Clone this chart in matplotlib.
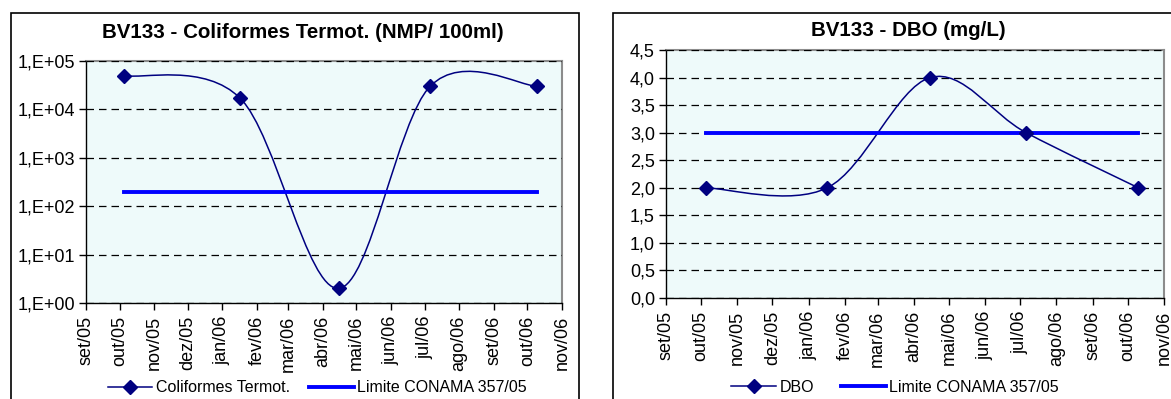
import matplotlib
matplotlib.use("Agg")
import matplotlib.pyplot as plt
import matplotlib.dates as mdates
from matplotlib.path import Path
from matplotlib.patches import PathPatch, Rectangle
from matplotlib.lines import Line2D
import numpy as np
import pandas as pd

plt.rcParams['font.family'] = ['Liberation Sans', 'DejaVu Sans']

# sample dates (same for both parameters)
dates = ['2005-10-05', '2006-01-17', '2006-04-15', '2006-07-06', '2006-10-10']
coliformes = [50000, 17000, 2, 30000, 30000]
dbo = [2.0, 2.0, 4.0, 3.0, 2.0]
limite_colif = 200
limite_dbo = 3.0

month_labels = ['set/05', 'out/05', 'nov/05', 'dez/05', 'jan/06', 'fev/06', 'mar/06',
                'abr/06', 'mai/06', 'jun/06', 'jul/06', 'ago/06', 'set/06', 'out/06', 'nov/06']
colif_ticks = [1, 10, 100, 1000, 10000, 100000]
colif_labels = ['1,E+00', '1,E+01', '1,E+02', '1,E+03', '1,E+04', '1,E+05']
dbo_ticks = [0.0, 0.5, 1.0, 1.5, 2.0, 2.5, 3.0, 3.5, 4.0, 4.5]
dbo_labels = ['0,0', '0,5', '1,0', '1,5', '2,0', '2,5', '3,0', '3,5', '4,0', '4,5']

NAVY = '#000080'
BLUE = '#0000FF'
BG = '#EEFAFA'
W, H = 1171, 399


def smooth_path(x, y):
    # excel-like smoothed line: catmull-rom segments as cubic beziers
    n = len(x)
    verts = [(x[0], y[0])]
    codes = [Path.MOVETO]
    for i in range(n - 1):
        a = i - 1 if i > 0 else i
        d = i + 2 if i + 2 < n else i + 1
        c1 = (x[i] + (x[i + 1] - x[a]) / 6, y[i] + (y[i + 1] - y[a]) / 6)
        c2 = (x[i + 1] - (x[d] - x[i]) / 6, y[i + 1] - (y[d] - y[i]) / 6)
        verts += [c1, c2, (x[i + 1], y[i + 1])]
        codes += [Path.CURVE4] * 3
    return np.array(verts), codes


def style_axes(ax):
    ax.set_facecolor(BG)
    for s in ['top', 'right']:
        ax.spines[s].set_color('#8C8C8C')
        ax.spines[s].set_linewidth(1.5)
    for s in ['left', 'bottom']:
        ax.spines[s].set_color('black')
        ax.spines[s].set_linewidth(1.0)
    months = mdates.date2num(pd.date_range('2005-09-01', '2006-11-01', freq='MS'))
    ax.set_xlim(months[0], months[-1])
    ax.set_xticks(months)
    ax.set_xticklabels(month_labels, rotation=90)
    ax.tick_params(axis='both', direction='out', length=5, width=1, labelsize=13, pad=3)
    ax.tick_params(axis='x', pad=4)
    ax.yaxis.grid(True, color='black', linestyle=(0, (6, 4)), linewidth=0.9)
    ax.set_axisbelow(False)


fig = plt.figure(figsize=(W / 100, H / 100), dpi=100)

# chart area frames
fig.add_artist(Rectangle((11 / W, -0.1), (579 - 11) / W, 1.1 - 13 / H,
                         transform=fig.transFigure, fill=False, ec='black', lw=1.2))
fig.add_artist(Rectangle((613 / W, -0.1), 0.5, 1.1 - 13 / H,
                         transform=fig.transFigure, fill=False, ec='black', lw=1.2))

xd = mdates.date2num(pd.to_datetime(dates))

# ---- left: coliformes
ax1 = fig.add_axes([86 / W, (H - 303) / H, 476 / W, 242 / H])
style_axes(ax1)
ax1.set_yscale('log')
ax1.set_ylim(1, 100000)
ax1.set_yticks(colif_ticks)
ax1.set_yticklabels(colif_labels)
ax1.yaxis.set_minor_locator(matplotlib.ticker.NullLocator())
v, c = smooth_path(xd, np.log10(coliformes))
v[:, 1] = 10 ** v[:, 1]
ax1.add_patch(PathPatch(Path(v, c), fill=False, ec=NAVY, lw=1.1, zorder=3))
ax1.plot(xd, coliformes, 'D', color=NAVY, ms=7, zorder=4)
ax1.plot([xd[0], xd[-1]], [limite_colif, limite_colif], color=BLUE, lw=2.8, zorder=3)
fig.text(303 / W, 1 - 32 / H, 'BV133 - Coliformes Termot. (NMP/ 100ml)',
         ha='center', va='center', fontsize=14.8, fontweight='bold')

# ---- right: DBO
ax2 = fig.add_axes([666 / W, (H - 298) / H, 498 / W, 248 / H])
style_axes(ax2)
ax2.set_ylim(0, 4.5)
ax2.set_yticks(dbo_ticks)
ax2.set_yticklabels(dbo_labels)
v, c = smooth_path(xd, np.array(dbo))
ax2.add_patch(PathPatch(Path(v, c), fill=False, ec=NAVY, lw=1.1, zorder=3))
ax2.plot(xd, dbo, 'D', color=NAVY, ms=7, zorder=4)
ax2.plot([xd[0], xd[-1]], [limite_dbo, limite_dbo], color=BLUE, lw=2.8, zorder=3)
fig.text(908 / W, 1 - 31 / H, 'BV133 - DBO (mg/L)',
         ha='center', va='center', fontsize=14.8, fontweight='bold')

# legends
h1 = Line2D([], [], color=NAVY, marker='D', ms=7, lw=1.1)
h2 = Line2D([], [], color=BLUE, lw=2.8)
fig.legend([h1, h2], ['Coliformes Termot.', 'Limite CONAMA 357/05'], loc='center',
           bbox_to_anchor=(317 / W, 1 - 388 / H), ncol=2, frameon=False, fontsize=11.5,
           handlelength=2.8, handletextpad=0.2, columnspacing=1.2, borderpad=0)
fig.legend([h1, h2], ['DBO', 'Limite CONAMA 357/05'], loc='center',
           bbox_to_anchor=(895 / W, 1 - 387 / H), ncol=2, frameon=False, fontsize=11.5,
           handlelength=2.8, handletextpad=0.2, columnspacing=1.7, borderpad=0)

fig.savefig('out.png', dpi=100)
